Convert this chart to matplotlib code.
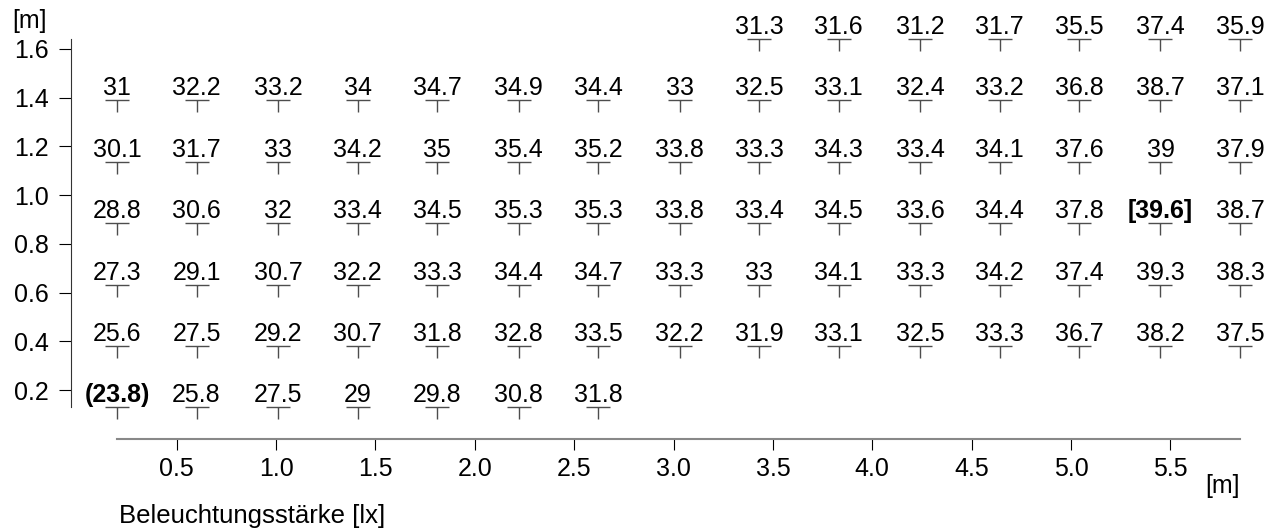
import numpy as np
import matplotlib
matplotlib.use("Agg")
import matplotlib.pyplot as plt
from matplotlib.path import Path

plt.rcParams["font.family"] = ["Liberation Sans", "DejaVu Sans"]

# Messraster (Positionen in m)
x_pos = [0.20, 0.60, 1.01, 1.41, 1.81, 2.22, 2.62, 3.03, 3.43, 3.83, 4.24, 4.64, 5.04, 5.45, 5.85]
y_pos = [1.64, 1.39, 1.135, 0.885, 0.633, 0.381, 0.13]

# Beleuchtungsstärke je Zeile (oben -> unten), None = kein Messpunkt
row_1 = [None, None, None, None, None, None, None, None, 31.3, 31.6, 31.2, 31.7, 35.5, 37.4, 35.9]
row_2 = [31, 32.2, 33.2, 34, 34.7, 34.9, 34.4, 33, 32.5, 33.1, 32.4, 33.2, 36.8, 38.7, 37.1]
row_3 = [30.1, 31.7, 33, 34.2, 35, 35.4, 35.2, 33.8, 33.3, 34.3, 33.4, 34.1, 37.6, 39, 37.9]
row_4 = [28.8, 30.6, 32, 33.4, 34.5, 35.3, 35.3, 33.8, 33.4, 34.5, 33.6, 34.4, 37.8, 39.6, 38.7]
row_5 = [27.3, 29.1, 30.7, 32.2, 33.3, 34.4, 34.7, 33.3, 33, 34.1, 33.3, 34.2, 37.4, 39.3, 38.3]
row_6 = [25.6, 27.5, 29.2, 30.7, 31.8, 32.8, 33.5, 32.2, 31.9, 33.1, 32.5, 33.3, 36.7, 38.2, 37.5]
row_7 = [23.8, 25.8, 27.5, 29, 29.8, 30.8, 31.8, None, None, None, None, None, None, None, None]
rows = [row_1, row_2, row_3, row_4, row_5, row_6, row_7]

x_ticks = [0.5, 1.0, 1.5, 2.0, 2.5, 3.0, 3.5, 4.0, 4.5, 5.0, 5.5]
y_ticks = [0.2, 0.4, 0.6, 0.8, 1.0, 1.2, 1.4, 1.6]

# T-foermiger Marker: Querstrich am Messpunkt, Strich nach unten
t_marker = Path([(-1, 0), (1, 0), (0, 0), (0, -1)],
                [Path.MOVETO, Path.LINETO, Path.MOVETO, Path.LINETO])

alle = [v for r in rows for v in r if v is not None]
vmin, vmax = min(alle), max(alle)

fig = plt.figure(figsize=(12.77, 5.31), dpi=100)
ax = fig.add_axes([0.0554, 0.1733, 0.9164, 0.7533])

for y, werte in zip(y_pos, rows):
    for x, v in zip(x_pos, werte):
        if v is None:
            continue
        ax.plot(x, y, marker=t_marker, markersize=17.3, color="#4d4d4d",
                markeredgewidth=1.0, linestyle="none", clip_on=False)
        txt = "%g" % v
        bold = "normal"
        if v == vmin:
            txt = "(" + txt + ")"
            bold = "bold"
        elif v == vmax:
            txt = "[" + txt + "]"
            bold = "bold"
        ax.annotate(txt, (x, y), xytext=(0, 3.5), textcoords="offset points",
                    ha="center", va="baseline", fontsize=18, fontweight=bold,
                    annotation_clip=False)

ax.set_xlim(-0.033, 5.855)
ax.set_ylim(0.0, 1.641)

for s in ["top", "right"]:
    ax.spines[s].set_visible(False)
ax.spines["left"].set_bounds(y_pos[-1], y_pos[0])
ax.spines["bottom"].set_bounds(x_pos[0], x_pos[-1])
ax.spines["left"].set_color("#333333")
ax.spines["bottom"].set_color("#888888")
ax.spines["bottom"].set_linewidth(1.5)

ax.set_xticks(x_ticks)
ax.set_xticklabels(["%.1f" % t for t in x_ticks])
ax.set_yticks(y_ticks)
ax.set_yticklabels(["%.1f" % t for t in y_ticks])
ax.tick_params(axis="y", direction="out", length=8.5, pad=7, labelsize=18)
ax.tick_params(axis="x", direction="out", length=8, pad=5, labelsize=18)

fig.text(47 / 1277, 1 - 21 / 531, "[m]", ha="right", va="center", fontsize=18)
fig.text(1240 / 1277, 1 - 486 / 531, "[m]", ha="right", va="center", fontsize=18)
fig.text(119 / 1277, 1 - 523 / 531, "Beleuchtungsstärke [lx]", ha="left",
         va="baseline", fontsize=18.5)

fig.savefig("out.png", dpi=100)
